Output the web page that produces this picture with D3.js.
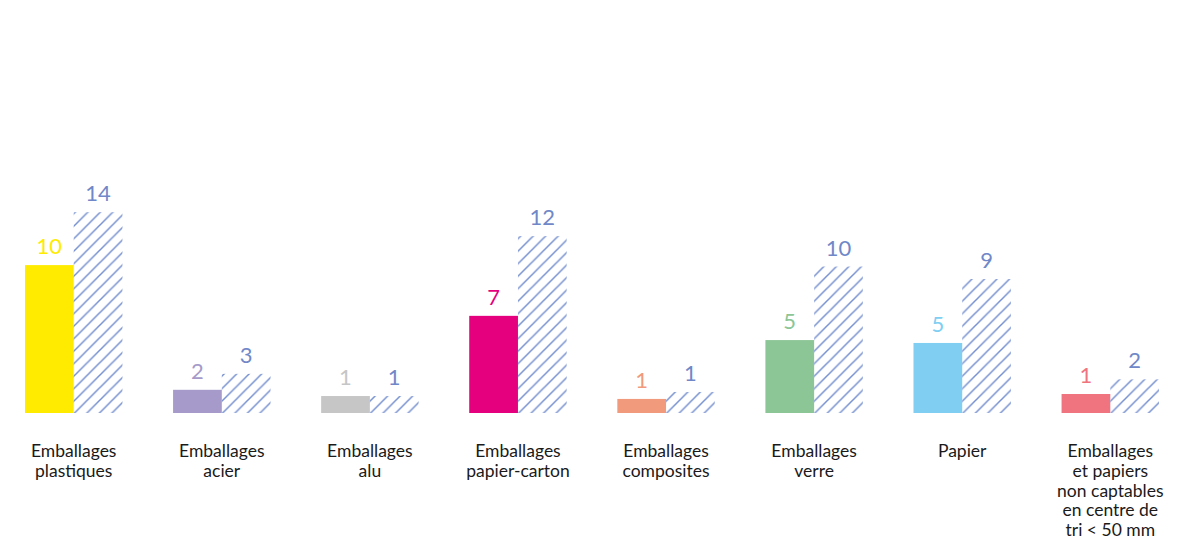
<!DOCTYPE html>
<html>
<head>
<meta charset="utf-8">
<script src="https://cdn.jsdelivr.net/npm/d3@7"></script>
<style>
  html, body { margin: 0; padding: 0; background: #ffffff; }
  svg { display: block; }
</style>
</head>
<body>
<svg id="chart" width="1182" height="544"></svg>
<script>
// ---- data ----
const categories = [
  ["Emballages", "plastiques"],
  ["Emballages", "acier"],
  ["Emballages", "alu"],
  ["Emballages", "papier-carton"],
  ["Emballages", "composites"],
  ["Emballages", "verre"],
  ["Papier"],
  ["Emballages", "et papiers", "non captables", "en centre de", "tri < 50 mm"]
];
const seriesSolid   = [10.2, 1.6, 1.17, 6.7, 0.97, 5.03, 4.83, 1.31];
const seriesHatched = [13.85, 2.7, 1.17, 12.2, 1.45, 10.1, 9.24, 2.32];
const solidColors = ["#ffeb00", "#a59ac9", "#c6c6c6", "#e5007d", "#f29a7c", "#8cc696", "#80cff3", "#ef7480"];
const hatchColor = "#7690cf";
const hatchLabelColor = "#7088c8";

// ---- layout ----
const baseline = 413;
const svg = d3.select("#chart");

const x = d3.scaleBand()
  .domain(d3.range(categories.length))
  .range([1, 1183])
  .paddingInner(0.342)
  .paddingOuter(0.162);

const inner = d3.scaleBand()
  .domain(["solid", "hatched"])
  .range([0, x.bandwidth()])
  .padding(0);

const y = d3.scaleLinear().domain([0, 20]).range([baseline, baseline - 290]);

const fmt = d3.format(".0f");

// hatch pattern
const defs = svg.append("defs");
const pat = defs.append("pattern")
  .attr("id", "hatch")
  .attr("patternUnits", "userSpaceOnUse")
  .attr("width", 12.5)
  .attr("height", 12.5);
pat.append("path")
  .attr("d", "M-3,3 L3,-3 M0,12.5 L12.5,0 M9.5,15.5 L15.5,9.5")
  .attr("stroke", hatchColor)
  .attr("stroke-width", 1.5)
  .attr("fill", "none");

const groups = svg.append("g").selectAll("g")
  .data(categories)
  .join("g")
  .attr("transform", (d, i) => `translate(${x(i)},0)`);

// solid bars
groups.append("rect")
  .attr("x", inner("solid"))
  .attr("width", inner.bandwidth())
  .attr("y", (d, i) => y(seriesSolid[i]))
  .attr("height", (d, i) => baseline - y(seriesSolid[i]))
  .attr("fill", (d, i) => solidColors[i]);

// hatched bars
groups.append("rect")
  .attr("x", inner("hatched"))
  .attr("width", inner.bandwidth())
  .attr("y", (d, i) => y(seriesHatched[i]))
  .attr("height", (d, i) => baseline - y(seriesHatched[i]))
  .attr("fill", "url(#hatch)");

// value labels
groups.append("text")
  .attr("x", inner("solid") + inner.bandwidth() / 2)
  .attr("y", (d, i) => y(seriesSolid[i]) - 11)
  .attr("text-anchor", "middle")
  .attr("font-family", "Lato, 'Open Sans', sans-serif")
  .attr("font-size", 22)
  .attr("fill", (d, i) => solidColors[i])
  .text((d, i) => fmt(seriesSolid[i]));

groups.append("text")
  .attr("x", inner("hatched") + inner.bandwidth() / 2)
  .attr("y", (d, i) => y(seriesHatched[i]) - 11)
  .attr("text-anchor", "middle")
  .attr("font-family", "Lato, 'Open Sans', sans-serif")
  .attr("font-size", 22)
  .attr("fill", hatchLabelColor)
  .text((d, i) => fmt(seriesHatched[i]));

// category labels
const catText = groups.append("text")
  .attr("x", x.bandwidth() / 2)
  .attr("y", 457)
  .attr("text-anchor", "middle")
  .attr("font-family", "Lato, 'Open Sans', sans-serif")
  .attr("font-size", 17.5)
  .attr("fill", "#1a1a1a");
catText.selectAll("tspan")
  .data(d => d)
  .join("tspan")
  .attr("x", x.bandwidth() / 2)
  .attr("dy", (d, j) => j === 0 ? 0 : 19.8)
  .text(d => d);
</script>
</body>
</html>
